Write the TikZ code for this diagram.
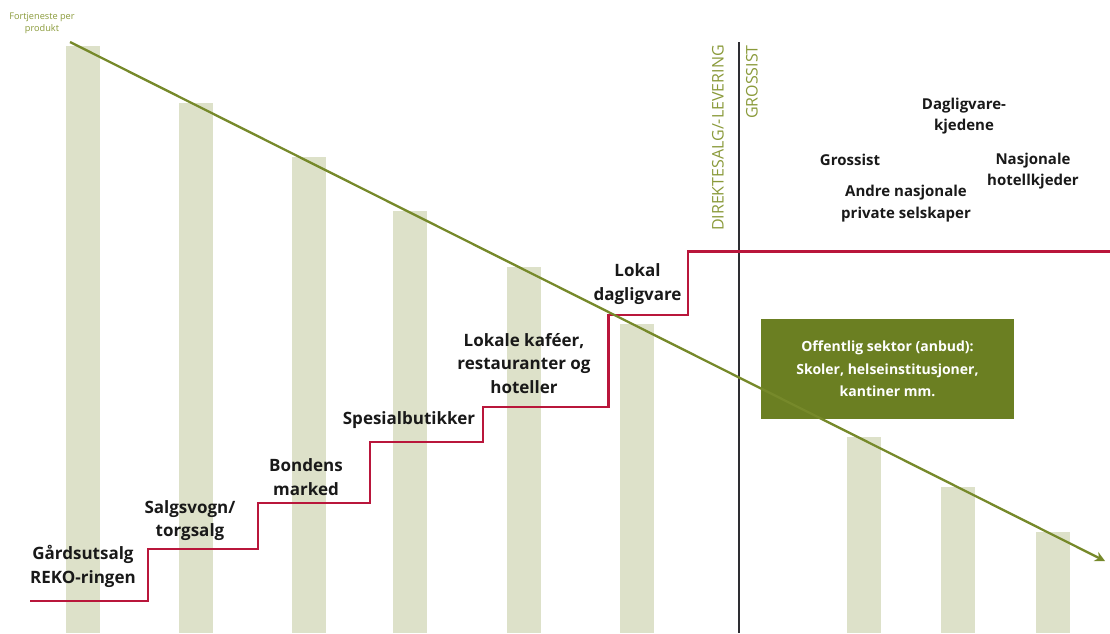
\documentclass[tikz,border=0pt]{standalone}
\usepackage{fontspec}
\setmainfont{Open Sans}
\usetikzlibrary{arrows.meta}
\definecolor{barc}{HTML}{DDE1C9}
\definecolor{olive}{HTML}{76892A}
\definecolor{boxc}{HTML}{6B7F22}
\definecolor{stair}{HTML}{B9163B}
\definecolor{lbl}{HTML}{8A9A3A}
\definecolor{divc}{HTML}{2E2E33}
\tikzset{
  bar/.style={fill=barc, draw=none},
  lab/.style={font=\fontsize{17}{23.5}\selectfont\bfseries, text=black!90, align=center, inner sep=0pt},
  rlab/.style={font=\fontsize{15}{21.5}\selectfont\bfseries, text=black!90, align=center, inner sep=0pt},
  vlab/.style={font=\fontsize{16}{18}\selectfont, text=lbl, rotate=90, anchor=east, inner sep=0pt},
}
\begin{document}
\begin{tikzpicture}[x=1pt,y=-1pt]
\useasboundingbox (0,0) rectangle (1110,633);
% bars
\foreach \xa/\top in {66/46,179/103,292/157,393/211,507/267,620/324,847/437,941/487,1036/532}
  \fill[bar] (\xa,\top) rectangle ++(33.5,633-\top);
% divider
\coordinate (dtop) at (738.5,42);
\coordinate (dbot) at (738.5,633);
\draw[divc, line width=2pt] (dtop) -- (dbot);
% staircase
\draw[stair, line width=2.5pt, line join=miter]
  (30,601) -- (148,601) -- (148,549) -- (258,549) -- (258,503) -- (370,503)
  -- (370,442) -- (483,442) -- (483,407) -- (608.5,407) -- (608.5,315)
  -- (688,315) -- (688,251.5) -- (1110,251.5);
% box
\node[fill=boxc, minimum width=253pt, minimum height=100pt, inner sep=0pt,
  font=\fontsize{14}{22.5}\selectfont\bfseries, text=white, align=center]
  (box) at (887.5,369) {Offentlig sektor (anbud):\\Skoler, helseinstitusjoner,\\kantiner mm.};
% arrow
\coordinate (astart) at (70,42);
\coordinate (aend) at (1105,561);
\draw[olive, line width=2.3pt, -{Stealth[length=10pt,width=10pt]}] (astart) -- (aend);
% axis label
\node[font=\fontsize{9.2}{12}\selectfont, text=lbl, align=center, inner sep=0pt]
  (axlab) at (42,23) {Fortjeneste per\\produkt};
% vertical labels
\node[vlab] (direkte) at (718,45) {DIREKTESALG/-LEVERING};
\node[vlab] (grossistv) at (752,45) {GROSSIST};
% stair labels
\node[lab] (l1) at (83,566.5) {Gårdsutsalg\\REKO-ringen};
\node[lab] (l2) at (190,520.5) {Salgsvogn/\\torgsalg};
\node[lab] (l3) at (306,477) {Bondens\\marked};
\node[lab] (l4) at (409,420) {Spesialbutikker};
\node[lab] (l5) at (524,363.5) {Lokale kaféer,\\restauranter og\\hoteller};
\node[lab] (l6) at (637.5,284) {Lokal\\dagligvare};
% right labels
\node[rlab] (r1) at (964,116) {Dagligvare-\\kjedene};
\node[rlab] (r2) at (850,160) {Grossist};
\node[rlab] (r3) at (1033,171) {Nasjonale\\hotellkjeder};
\node[rlab] (r4) at (906,203.5) {Andre nasjonale\\private selskaper};
\end{tikzpicture}
\end{document}
